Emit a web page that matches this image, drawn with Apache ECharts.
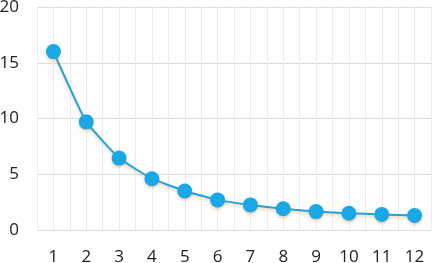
<!DOCTYPE html>
<html><head><meta charset="utf-8">
<script src="https://cdn.jsdelivr.net/npm/echarts@6/dist/echarts.min.js"></script>
<style>html,body{margin:0;padding:0;background:#fff}#c{width:432px;height:263px}</style>
</head><body><div id="c"></div>
<script>
var categories = [1,2,3,4,5,6,7,8,9,10,11,12];
var values = [16, 9.7, 6.45, 4.6, 3.5, 2.7, 2.25, 1.9, 1.65, 1.5, 1.4, 1.3];
var yTicks = [0,5,10,15,20];
var chart = echarts.init(document.getElementById('c'));
chart.setOption({
  animation:false,
  grid:{left:37,right:1,top:7,bottom:33,containLabel:false,outerBoundsMode:'none'},
  xAxis:{type:'value',min:0.5,max:12.5,interval:0.5,
    axisLine:{show:false},axisTick:{show:false},
    splitLine:{show:true,lineStyle:{color:'#ececec',width:1}},
    axisLabel:{color:'#222',fontSize:17,fontFamily:'Open Sans',margin:19,
      showMinLabel:true,showMaxLabel:true,
      formatter:function(v){return (Math.abs(v-Math.round(v))<1e-6)?String(Math.round(v)):'';}}},
  yAxis:{type:'value',min:yTicks[0],max:yTicks[yTicks.length-1],interval:5,
    axisLine:{show:false},axisTick:{show:false},
    splitLine:{lineStyle:{color:'#dcdcdc',width:1}},
    axisLabel:{color:'#222',fontSize:17,fontFamily:'Open Sans',margin:18}},
  series:[{type:'line',data:categories.map(function(c,i){return [c,values[i]];}),
    smooth:0.12,symbol:'circle',symbolSize:15,
    lineStyle:{color:'#1ea3dc',width:2,shadowColor:'rgba(200,120,40,0.35)',shadowBlur:3,shadowOffsetY:2},
    itemStyle:{color:'#1aa7e6',shadowColor:'rgba(200,120,40,0.35)',shadowBlur:3,shadowOffsetY:2}}]
});
</script></body></html>
